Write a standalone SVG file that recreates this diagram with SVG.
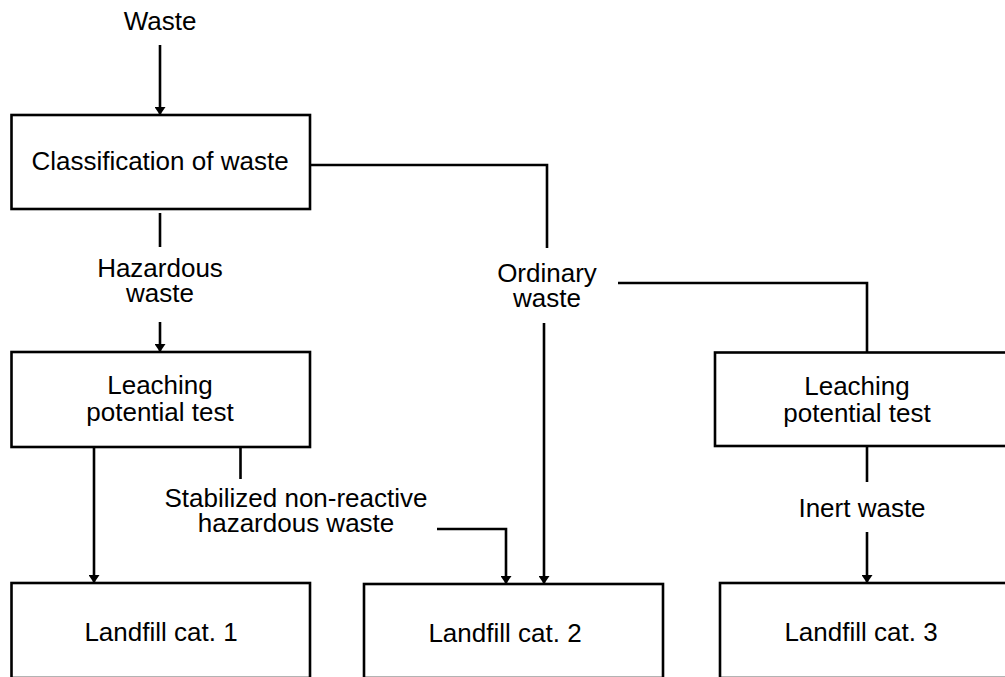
<svg xmlns="http://www.w3.org/2000/svg" width="1005" height="677" viewBox="0 0 1005 677">
<style>
.box{fill:#fff;stroke:#000;stroke-width:2.6}
.ln{fill:none;stroke:#000;stroke-width:2.6}
.t{font-family:"Liberation Sans",Arial,sans-serif;font-size:26px;fill:#000;text-anchor:middle}
</style>
<defs>
<marker id="ah" viewBox="0 0 8 11" refX="8" refY="5.5" markerWidth="8" markerHeight="11" markerUnits="userSpaceOnUse" orient="auto">
<path d="M0,0 L8,5.5 L0,11 z" fill="#000"/>
</marker>
</defs>
<rect width="1005" height="677" fill="#fff"/>
<g id="connectors">
<line class="ln" x1="160" y1="45" x2="160" y2="115" marker-end="url(#ah)"/>
<polyline class="ln" points="307,165 547,165 547,248"/>
<line class="ln" x1="160" y1="213" x2="160" y2="247"/>
<line class="ln" x1="160" y1="322" x2="160" y2="352" marker-end="url(#ah)"/>
<polyline class="ln" points="618,283 867,283 867,352"/>
<line class="ln" x1="544" y1="323" x2="544" y2="584" marker-end="url(#ah)"/>
<line class="ln" x1="94" y1="447" x2="94" y2="583" marker-end="url(#ah)"/>
<line class="ln" x1="240.5" y1="447" x2="240.5" y2="479"/>
<polyline class="ln" points="437,529 506,529 506,584" marker-end="url(#ah)"/>
<line class="ln" x1="867" y1="446" x2="867" y2="482"/>
<line class="ln" x1="867" y1="532" x2="867" y2="583" marker-end="url(#ah)"/>
</g>
<g id="labels">
<text class="t" x="160" y="30">Waste</text>
<text class="t" x="160" y="277">Hazardous<tspan x="160" dy="25">waste</tspan></text>
<text class="t" x="547" y="282">Ordinary<tspan x="547" dy="25">waste</tspan></text>
<text class="t" x="296" y="507">Stabilized non-reactive<tspan x="296" dy="25">hazardous waste</tspan></text>
<text class="t" x="862" y="517">Inert waste</text>
</g>
<g id="classification">
<rect class="box" x="11.5" y="115" width="298.5" height="94"/>
<text class="t" x="160" y="170">Classification of waste</text>
</g>
<g id="leaching1">
<rect class="box" x="11.5" y="352" width="298.5" height="95"/>
<text class="t" x="160" y="394">Leaching<tspan x="160" dy="27">potential test</tspan></text>
</g>
<g id="leaching2">
<rect class="box" x="715" y="352.5" width="300" height="93.5"/>
<text class="t" x="857" y="395">Leaching<tspan x="857" dy="27">potential test</tspan></text>
</g>
<g id="landfill1">
<rect class="box" x="11.5" y="583" width="298.5" height="95"/>
<text class="t" x="161" y="641">Landfill cat. 1</text>
</g>
<g id="landfill2">
<rect class="box" x="364" y="584" width="299" height="94"/>
<text class="t" x="505" y="642">Landfill cat. 2</text>
</g>
<g id="landfill3">
<rect class="box" x="720" y="583" width="295" height="95"/>
<text class="t" x="861" y="641">Landfill cat. 3</text>
</g>
</svg>
